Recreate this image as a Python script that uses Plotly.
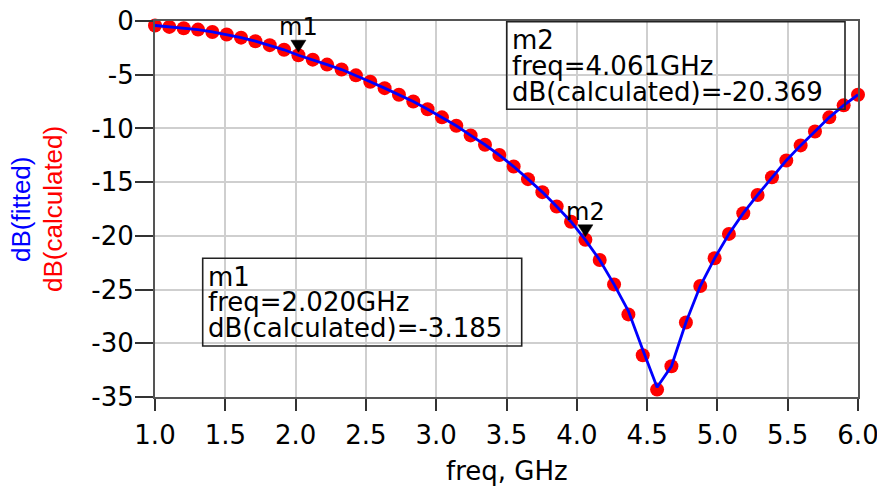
import plotly.graph_objects as go

# ---------------- data ----------------
freq_ghz = [1.000, 1.102, 1.204, 1.306, 1.408, 1.510, 1.612, 1.714, 1.816, 1.918,
            2.020, 2.122, 2.224, 2.327, 2.429, 2.531, 2.633, 2.735, 2.837, 2.939,
            3.041, 3.143, 3.245, 3.347, 3.449, 3.551, 3.653, 3.755, 3.857, 3.959,
            4.061, 4.163, 4.265, 4.367, 4.469, 4.571, 4.673, 4.776, 4.878, 4.980,
            5.082, 5.184, 5.286, 5.388, 5.490, 5.592, 5.694, 5.796, 5.898, 6.000]

db_calculated = [-0.42, -0.55, -0.68, -0.80, -1.02, -1.25, -1.55, -1.88, -2.25, -2.68,
                 -3.185, -3.60, -4.06, -4.52, -5.06, -5.65, -6.25, -6.86, -7.50, -8.22,
                 -8.97, -9.75, -10.65, -11.52, -12.48, -13.55, -14.72, -15.93, -17.27, -18.68,
                 -20.369, -22.25, -24.52, -27.31, -31.11, -34.31, -32.14, -28.06, -24.67, -22.09,
                 -19.82, -17.89, -16.19, -14.54, -12.98, -11.58, -10.28, -8.97, -7.85, -6.86]

db_fitted = [-0.42, -0.55, -0.68, -0.80, -1.02, -1.25, -1.55, -1.88, -2.25, -2.68,
             -3.185, -3.60, -4.06, -4.52, -5.06, -5.65, -6.25, -6.86, -7.50, -8.22,
             -8.97, -9.75, -10.65, -11.52, -12.48, -13.55, -14.72, -15.93, -17.27, -18.68,
             -20.369, -22.25, -24.52, -27.0, -30.6, -34.1, -32.14, -28.06, -24.67, -22.09,
             -19.82, -17.89, -16.19, -14.54, -12.98, -11.58, -10.28, -8.97, -7.85, -6.86]

x_ticks = [1.0, 1.5, 2.0, 2.5, 3.0, 3.5, 4.0, 4.5, 5.0, 5.5, 6.0]
x_tick_labels = ["1.0", "1.5", "2.0", "2.5", "3.0", "3.5", "4.0", "4.5", "5.0", "5.5", "6.0"]
y_ticks = [0, -5, -10, -15, -20, -25, -30, -35]
y_tick_labels = ["0", "-5", "-10", "-15", "-20", "-25", "-30", "-35"]

markers = [
    {"name": "m1", "freq": 2.020, "val": -3.185, "freq_txt": "2.020GHz", "val_txt": "-3.185"},
    {"name": "m2", "freq": 4.061, "val": -20.369, "freq_txt": "4.061GHz", "val_txt": "-20.369"},
]

# ---------------- layout helpers (pixel -> paper) ----------------
W, H = 877, 488
L, R, T, B = 155.0, 858.0, 21.0, 397.0


def px(xp):
    return (xp - L) / (R - L)


def py(yp):
    return (B - yp) / (B - T)


FONT = "DejaVu Sans"
ARIAL = "Liberation Sans, Arial"

fig = go.Figure()

fig.add_trace(go.Scatter(
    x=freq_ghz, y=db_calculated, mode="markers", name="dB(calculated)",
    marker=dict(color="#ff0000", size=14, line=dict(width=0)),
    cliponaxis=False, showlegend=False,
))
fig.add_trace(go.Scatter(
    x=freq_ghz, y=db_fitted, mode="lines", name="dB(fitted)",
    line=dict(color="#0000ff", width=2.8),
    cliponaxis=False, showlegend=False,
))

shapes = []
annotations = []

# marker triangles and labels
for m in markers:
    shapes.append(dict(
        type="path", xref="x", yref="y", xsizemode="pixel", ysizemode="pixel",
        xanchor=m["freq"], yanchor=m["val"],
        path="M -7.5,15 L 7.5,15 L 0,3 Z",
        fillcolor="black", line=dict(color="black", width=0.5),
    ))
    annotations.append(dict(
        x=m["freq"], y=m["val"], xref="x", yref="y", text=m["name"],
        showarrow=False, yshift=28, xanchor="center", yanchor="middle",
        font=dict(family=FONT, size=24, color="black"),
    ))

# readout boxes: (left, top, right, bottom) in pixels, text left, line centers
boxes = [
    (202.7, 258.3, 521.7, 346.0, 206.5, [276.5, 302.0, 328.0]),
    (506.7, 21.7, 845.0, 109.3, 511.0, [40.0, 66.0, 92.0]),
]
for m, (bx0, by0, bx1, by1, tx, lines) in zip(markers, boxes):
    shapes.append(dict(
        type="rect", xref="paper", yref="paper",
        x0=px(bx0), x1=px(bx1), y0=py(by1), y1=py(by0),
        line=dict(color="#222222", width=1.6), fillcolor="rgba(0,0,0,0)",
    ))
    texts = [m["name"], "freq=" + m["freq_txt"], "dB(calculated)=" + m["val_txt"]]
    for t, ly in zip(texts, lines):
        annotations.append(dict(
            x=px(tx), y=py(ly), xref="paper", yref="paper", text=t,
            showarrow=False, xanchor="left", yanchor="middle",
            font=dict(family=FONT, size=26, color="black"),
            borderpad=0,
        ))

# y-axis titles (two colours)
annotations.append(dict(
    x=px(21), y=py(209), xref="paper", yref="paper", text="dB(fitted)",
    textangle=-90, showarrow=False, xanchor="center", yanchor="middle",
    font=dict(family=ARIAL, size=26, color="#0000ff"),
))
annotations.append(dict(
    x=px(53), y=py(209), xref="paper", yref="paper", text="dB(calculated)",
    textangle=-90, showarrow=False, xanchor="center", yanchor="middle",
    font=dict(family=ARIAL, size=26, color="#ff0000"),
))
# x-axis title
annotations.append(dict(
    x=px(507), y=py(471), xref="paper", yref="paper", text="freq, GHz",
    showarrow=False, xanchor="center", yanchor="middle",
    font=dict(family=FONT, size=26, color="black"),
))

fig.update_layout(
    width=W, height=H,
    margin=dict(l=155, r=19, t=21, b=91, autoexpand=False),
    paper_bgcolor="white", plot_bgcolor="white",
    shapes=shapes, annotations=annotations,
    showlegend=False,
)

fig.update_xaxes(
    range=[1.0, 6.0], tickvals=x_ticks, ticktext=x_tick_labels,
    showgrid=True, gridcolor="#cfcfcf", gridwidth=1.6,
    zeroline=False, showline=True, linecolor="#555555", linewidth=2, mirror=True,
    ticks="outside", ticklen=12, tickwidth=1.5, tickcolor="#333333",
    tickfont=dict(family=FONT, size=26, color="black"),
    ticklabelstandoff=2, automargin=False, ticklabeloverflow="allow",
)
fig.update_yaxes(
    range=[-35, 0], tickvals=y_ticks, ticktext=y_tick_labels,
    showgrid=True, gridcolor="#cfcfcf", gridwidth=1.6,
    zeroline=False, showline=True, linecolor="#555555", linewidth=2, mirror=True,
    ticks="outside", ticklen=18, tickwidth=1.5, tickcolor="#333333",
    tickfont=dict(family=FONT, size=26, color="black"),
    ticklabelstandoff=-4, automargin=False, ticklabeloverflow="allow",
)

fig.write_html(
    "out.html",
    config={"displayModeBar": False},
    post_script="document.body.style.margin='0';document.body.style.overflow='hidden';",
)
